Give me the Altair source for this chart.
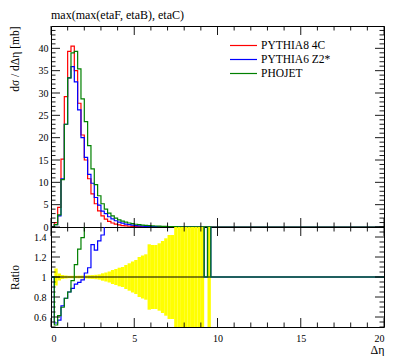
import altair as alt
import pandas as pd
import numpy as np

# ---------------- data (bin width 0.2, bins starting at 0) ----------------
bin_width = 0.2
x_range = [0, 20]
series_names = ["PYTHIA8 4C", "PYTHIA6 Z2*", "PHOJET"]
series_colors = ["#ff0000", "#0000ff", "#008000"]

py8_4c = [0.0, 1.0, 4.4, 15.2, 29.2, 39.3, 40.5, 35.0, 27.7, 20.6,
          15.0, 10.8, 7.4, 5.2, 3.6, 2.5, 1.75, 1.25, 0.9, 0.65,
          0.46, 0.33, 0.24, 0.17, 0.125, 0.095, 0.075, 0.06, 0.045, 0.035,
          0.028, 0.022, 0.018, 0.015, 0.012, 0.01, 0.008, 0.006, 0.005, 0.004,
          0.003, 0.003, 0.002, 0.002, 0.002, 0.001, 0.0, 0.001, 0.0, 0.0]
py6_z2 = [0.0, 0.54, 2.5, 10.8, 23.0, 33.4, 35.9, 32.5, 26.2, 20.0,
          15.6, 11.8, 9.8, 6.6, 4.9, 3.55, 3.0, 2.3, 1.8, 1.4,
          1.1, 0.85, 0.66, 0.52, 0.41, 0.32, 0.25, 0.2, 0.16, 0.12,
          0.1, 0.08, 0.06, 0.05, 0.04, 0.03, 0.025, 0.02, 0.015, 0.012,
          0.01, 0.008, 0.006, 0.005, 0.004, 0.003, 0.002, 0.002, 0.0, 0.0]
phojet = [0.0, 0.52, 2.7, 10.6, 23.0, 33.4, 39.0, 39.3, 35.4, 28.7,
          23.6, 18.2, 13.0, 9.5, 7.0, 5.2, 4.0, 3.1, 2.5, 2.0,
          1.6, 1.3, 1.1, 0.9, 0.75, 0.62, 0.52, 0.44, 0.37, 0.31,
          0.26, 0.22, 0.18, 0.15, 0.12, 0.1, 0.08, 0.065, 0.05, 0.04,
          0.03, 0.025, 0.02, 0.015, 0.012, 0.01, 0.008, 0.006, 0.004, 0.003]
# relative statistical uncertainty of the reference (PYTHIA8 4C)
py8_relerr = [0.0, 0.085, 0.035, 0.02, 0.015, 0.012, 0.012, 0.012, 0.013, 0.014,
              0.015, 0.017, 0.019, 0.022, 0.026, 0.037, 0.045, 0.055, 0.07, 0.08,
              0.093, 0.10, 0.12, 0.137, 0.155, 0.17, 0.2, 0.215, 0.227, 0.327,
              0.32, 0.32, 0.337, 0.36, 0.387, 0.42, 0.42, 0.6, 0.7, 0.7,
              1.0, 0.7, 1.0, 1.0, 1.0, 1.0, 0.0, 1.0, 0.0, 0.0]
empty_tail = [0.0] * 50  # Δη from 10 to 20: no entries

title_text = "max(max(etaF, etaB), etaC)"
y_title = "dσ / dΔη [mb]"
ratio_title = "Ratio"
x_title = "Δη"
y_labels = [0, 5, 10, 15, 20, 25, 30, 35, 40]
ratio_labels = [0.6, 0.8, 1.0, 1.2, 1.4]
x_labels = [0, 5, 10, 15, 20]

# ---------------- tables ----------------
full = {
    "PYTHIA8 4C": py8_4c + empty_tail,
    "PYTHIA6 Z2*": py6_z2 + empty_tail,
    "PHOJET": phojet + empty_tail,
}
ref = full["PYTHIA8 4C"]
relerr = py8_relerr + empty_tail
nb = len(ref)
edges = np.round(np.arange(nb + 1) * bin_width, 6)

rows = []
for name in series_names:
    vals = full[name]
    for i in range(nb):
        rows.append({"series": name, "x": edges[i], "y": vals[i], "o": i})
    rows.append({"series": name, "x": edges[nb], "y": vals[-1], "o": nb})
hist_df = pd.DataFrame(rows)

rrows = []
for name in series_names[1:]:
    vals = full[name]
    rat = [(v / r if r > 0 else 1.0) for v, r in zip(vals, ref)]
    for i in range(nb):
        rrows.append({"series": name, "x": edges[i], "r": rat[i], "o": i})
    rrows.append({"series": name, "x": edges[nb], "r": rat[-1], "o": nb})
ratio_df = pd.DataFrame(rrows)

band_df = pd.DataFrame({
    "x0": edges[:-1], "x1": edges[1:],
    "lo": [1 - e for e in relerr], "hi": [1 + e for e in relerr],
    "ref": ref,
})
band_df = band_df[band_df["ref"] > 0]

# ---------------- styling ----------------
FONT = "Liberation Serif, DejaVu Serif, serif"
W, H1, H2 = 333, 201, 100
LMAJ, LMIN = 9, 4.5

xscale = alt.Scale(domain=x_range, nice=False, zero=False)
yscale1 = alt.Scale(domain=[0, 45], nice=False, zero=False)
yscale2 = alt.Scale(domain=[0.5, 1.5], nice=False, zero=False)

common_axis = dict(ticks=False, domain=False, grid=False, labelFont=FONT,
                   labelFontSize=10, labelColor="black", titleFont=FONT,
                   titleFontWeight="normal", titleColor="black")
y_axis1 = alt.Axis(values=y_labels, labelPadding=3, title=y_title,
                   titleFontSize=11.5, titleAnchor="end", titleX=-36,
                   titleBaseline="middle", **common_axis)
y_axis2 = alt.Axis(values=ratio_labels, format="~g", labelPadding=5,
                   title=ratio_title, titleFontSize=11.5, titleAnchor="middle",
                   titleX=-36, titleBaseline="middle", **common_axis)
x_axis2 = alt.Axis(values=x_labels, format="d", labelPadding=6, title=x_title,
                   titleFontSize=12, titleAnchor="end", titlePadding=1,
                   **common_axis)


def tick_layers(H, yvals_major, yvals_minor, yscale, yaxis, xaxis):
    layers = []
    for vals, L in [(yvals_major, LMAJ), (yvals_minor, LMIN)]:
        base = alt.Chart(pd.DataFrame({"v": vals})).mark_rule(color="black", strokeWidth=0.9)
        yy = alt.Y("v:Q", scale=yscale, axis=yaxis)
        layers.append(base.encode(y=yy, x=alt.value(0), x2=alt.value(L)))
        layers.append(base.encode(y=yy, x=alt.value(W), x2=alt.value(W - L)))
    xmaj = list(range(0, 21, 5))
    xmin = [v for v in range(0, 21) if v % 5 != 0]
    for vals, L in [(xmaj, LMAJ), (xmin, LMIN)]:
        base = alt.Chart(pd.DataFrame({"v": vals})).mark_rule(color="black", strokeWidth=0.9)
        xx = alt.X("v:Q", scale=xscale, axis=xaxis)
        layers.append(base.encode(x=xx, y=alt.value(0), y2=alt.value(L)))
        layers.append(base.encode(x=xx, y=alt.value(H), y2=alt.value(H - L)))
    return layers


# ---------------- top panel ----------------
color_scale = alt.Scale(domain=series_names, range=series_colors)
legend = alt.Legend(title=None, orient="none", legendX=184, legendY=11,
                    symbolType="M-1.8,0L1.8,0", symbolSize=225, symbolStrokeWidth=1.2,
                    symbolFillColor="transparent",
                    labelFont=FONT, labelFontSize=11.5, labelColor="black",
                    labelOffset=9, rowPadding=0)

lines = alt.Chart(hist_df).mark_line(interpolate="step-after", strokeWidth=1.2).encode(
    x=alt.X("x:Q", scale=xscale, axis=None),
    y=alt.Y("y:Q", scale=yscale1, axis=y_axis1),
    color=alt.Color("series:N", scale=color_scale, legend=legend, sort=series_names),
    order=alt.Order("o:Q"),
)

y1_minor = [v for v in range(0, 46) if v % 5 != 0]
top = alt.layer(
    lines,
    *tick_layers(H1, y_labels, y1_minor, yscale1, y_axis1, None),
).properties(
    width=W, height=H1,
    title=alt.TitleParams(title_text, anchor="start", frame="group", font=FONT,
                          fontSize=12, fontWeight="normal", color="black", offset=4),
)

# ---------------- ratio panel ----------------
band = alt.Chart(band_df).mark_rect(color="#ffff00", clip=True).encode(
    x=alt.X("x0:Q", scale=xscale, axis=x_axis2),
    x2="x1:Q",
    y=alt.Y("lo:Q", scale=yscale2, axis=y_axis2),
    y2="hi:Q",
)
unity = alt.Chart(pd.DataFrame({"v": [1.0]})).mark_rule(color="black", strokeWidth=1).encode(
    y=alt.Y("v:Q", scale=yscale2, axis=y_axis2),
)
ratio_layers = []
for name, col in zip(series_names[1:], series_colors[1:]):
    ratio_layers.append(
        alt.Chart(ratio_df[ratio_df["series"] == name]).mark_line(
            interpolate="step-after", strokeWidth=1.2, clip=True, color=col
        ).encode(
            x=alt.X("x:Q", scale=xscale, axis=x_axis2),
            y=alt.Y("r:Q", scale=yscale2, axis=y_axis2),
            order=alt.Order("o:Q"),
        )
    )

r_vals = [round(0.5 + 0.05 * k, 2) for k in range(21)]
r_major = [v for v in r_vals if abs(v * 5 - round(v * 5)) < 1e-6]
r_minor = [v for v in r_vals if v not in r_major]
bottom = alt.layer(
    band, unity, *ratio_layers,
    *tick_layers(H2, r_major, r_minor, yscale2, y_axis2, x_axis2),
).properties(width=W, height=H2)

chart = alt.vconcat(top, bottom, spacing=0, bounds="flush").resolve_scale(
    color="independent"
).properties(
    padding={"left": 0, "top": 0, "right": 0, "bottom": 0}
).configure_view(stroke="black", strokeWidth=1)

chart.save("out.html", embed_options={"renderer": "svg", "actions": False})
